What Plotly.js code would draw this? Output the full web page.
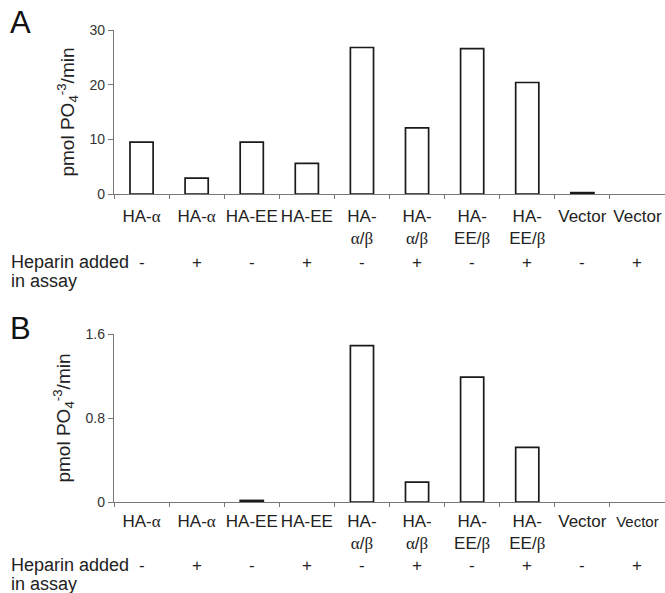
<!DOCTYPE html>
<html>
<head>
<meta charset="utf-8">
<script src="https://cdn.plot.ly/plotly-3.0.1.min.js"></script>
<style>html,body{margin:0;padding:0;background:#fff;}#chart{width:665px;height:593px;}</style>
</head>
<body>
<div id="chart"></div>
<script>
var constructs = ["HA-α", "HA-α", "HA-EE", "HA-EE", "HA-<br>α/β", "HA-<br>α/β", "HA-<br>EE/β", "HA-<br>EE/β", "Vector", "Vector"];
var heparin = ["-", "+", "-", "+", "-", "+", "-", "+", "-", "+"];
var valuesA = [9.5, 2.9, 9.5, 5.6, 26.8, 12.1, 26.6, 20.4, 0.25, 0];
var valuesB = [0, 0, 0.015, 0, 1.49, 0.19, 1.19, 0.52, 0, 0];
var ticksA = [0, 10, 20, 30];
var ticksB = [0, 0.8, 1.6];
var heparinLabel = ["Heparin added", "in assay"];

var serif = "Liberation Serif, Times New Roman, serif";
function greek(s){ return s.replace(/([αβ])/g, "<span style=\"font-family:" + serif + "\">$1</span>"); }
var idx = constructs.map(function(_, i){ return i; });
var ticktext = constructs.map(greek);
var ticktextB = ticktext.slice();
ticktextB[9] = "<span style=\"font-size:15px\">Vector</span>";

var W = 665, H = 593;
function py(px){ return 1 - px / H; }

function bar(vals, xa, ya){
  return {type: "bar", x: idx, y: vals, xaxis: xa, yaxis: ya, width: 0.42, hoverinfo: "y",
    marker: {color: "#ffffff", line: {color: "#1a1a1a", width: vals.map(function(v){ return v > 0 ? 1.7 : 0; })}}};
}
var traces = [bar(valuesA, "x", "y"), bar(valuesB, "x2", "y2")];

var fam = "Liberation Sans, Arial, sans-serif";
var font = {family: fam, color: "#222", size: 17};
function xaxis(anchor, tt, standoff){
  return {
    anchor: anchor, domain: [114 / W, 1], range: [-0.5, 9.5],
    tickmode: "array", tickvals: idx, ticktext: tt, ticks: "", ticklen: 0, ticklabelstandoff: standoff,
    showline: true, linecolor: "#777", linewidth: 1.2, showgrid: false, zeroline: false,
    tickfont: {family: fam, size: 17, color: "#222"},
    minor: {ticks: "outside", ticklen: 4, tickcolor: "#777", tickwidth: 1, tick0: 0.5, dtick: 1, showgrid: false},
    fixedrange: true
  };
}
function yaxis(anchor, dom, rng, tv){
  return {
    anchor: anchor, domain: dom, range: rng, tickmode: "array", tickvals: tv,
    ticks: "outside", ticklen: 5, tickcolor: "#777", showline: true, linecolor: "#777", linewidth: 1.2,
    showgrid: false, zeroline: false,
    tickfont: {family: fam, size: 14, color: "#333"},
    title: {text: "pmol PO<sub>4</sub><sup>-3</sup>/min", font: {family: fam, size: 19, color: "#222"}, standoff: 9},
    fixedrange: true
  };
}

var annotations = [];
[["x", "y", -68, 262], ["x2", "y2", -63, 565]].forEach(function(ax){
  heparin.forEach(function(s, i){
    annotations.push({xref: ax[0], yref: ax[1], x: i, y: 0, text: s, showarrow: false,
      yshift: ax[2], font: {family: fam, size: 17, color: "#222"}});
  });
  heparinLabel.forEach(function(t, k){
    annotations.push({xref: "paper", yref: "paper", x: 0.014, y: py(ax[3] + k * 19), xanchor: "left", yanchor: "middle",
      text: t, showarrow: false, font: {family: fam, size: 18, color: "#222"}});
  });
});
annotations.push({xref: "paper", yref: "paper", x: 0.012, y: py(3), xanchor: "left", yanchor: "top", text: "A", showarrow: false,
  font: {family: fam, size: 31, color: "#111"}});
annotations.push({xref: "paper", yref: "paper", x: 0.012, y: py(309), xanchor: "left", yanchor: "top", text: "B", showarrow: false,
  font: {family: fam, size: 31, color: "#111"}});

var layout = {
  width: W, height: H, margin: {l: 0, r: 0, t: 0, b: 0},
  paper_bgcolor: "#fff", plot_bgcolor: "#fff", showlegend: false, font: font,
  xaxis: xaxis("y", ticktext, 6),
  yaxis: yaxis("x", [py(194), py(30)], [0, 30], ticksA),
  xaxis2: xaxis("y2", ticktextB, 3),
  yaxis2: yaxis("x2", [py(502), py(334)], [0, 1.6], ticksB),
  annotations: annotations
};

Plotly.newPlot("chart", traces, layout, {displayModeBar: false, staticPlot: true});
</script>
</body>
</html>
